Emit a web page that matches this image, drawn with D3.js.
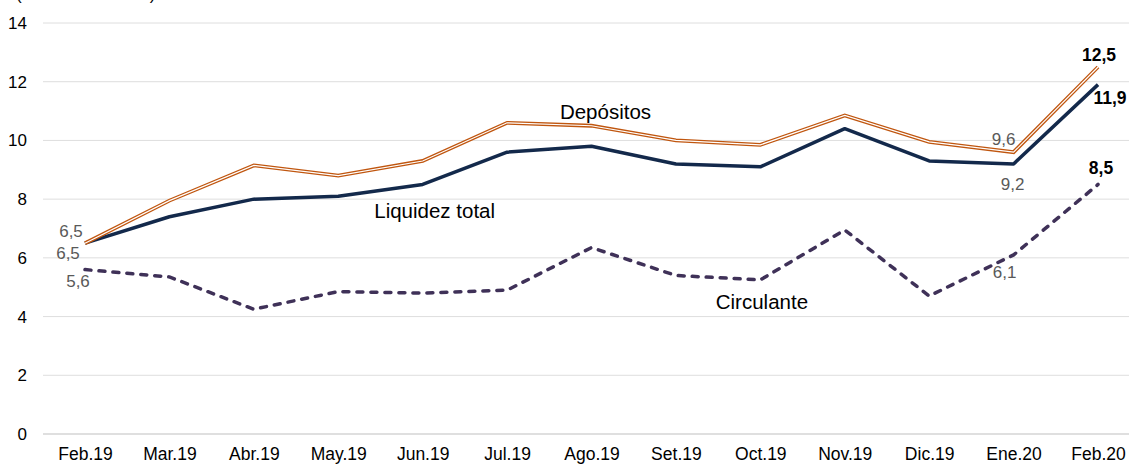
<!DOCTYPE html>
<html>
<head>
<meta charset="utf-8">
<script src="https://cdn.jsdelivr.net/npm/d3@7"></script>
<style>
  body { margin: 0; background: #fff; }
  svg { display: block; font-family: "Liberation Sans", Arial, sans-serif; }
</style>
</head>
<body>
<svg id="chart"></svg>
<script>
const width = 1129;
const height = 464;

const months = ['Feb.19', 'Mar.19', 'Abr.19', 'May.19', 'Jun.19', 'Jul.19', 'Ago.19',
                'Set.19', 'Oct.19', 'Nov.19', 'Dic.19', 'Ene.20', 'Feb.20'];
const depositos = [6.5, 7.95, 9.15, 8.8, 9.3, 10.6, 10.5, 10.0, 9.85, 10.85, 9.95, 9.6, 12.5];
const liquidez  = [6.5, 7.4, 8.0, 8.1, 8.5, 9.6, 9.8, 9.2, 9.1, 10.4, 9.3, 9.2, 11.9];
const circulante = [5.6, 5.35, 4.25, 4.85, 4.8, 4.9, 6.35, 5.4, 5.25, 6.95, 4.7, 6.1, 8.5];
const yTicks = [0, 2, 4, 6, 8, 10, 12, 14];

const svg = d3.select('#chart')
            .attr('width', width)
            .attr('height', height);

const x = d3.scalePoint().domain(months).range([85, 1098]);
const y = d3.scaleLinear().domain([0, 14]).range([434, 23]);

// unit note, cut by the top edge
svg.append('text')
    .attr('x', 16).attr('y', 0)
    .attr('font-size', 17)
    .attr('fill', '#000')
    .text('(Var. % real anual)');

// grid
svg.append('g').selectAll('line')
    .data(yTicks).enter()
    .append('line')
    .attr('x1', 43).attr('x2', width)
    .attr('y1', d => y(d)).attr('y2', d => y(d))
    .attr('stroke', d => d === 0 ? '#bfbfbf' : '#dedede')
    .attr('stroke-width', 1);

const yAxis = svg.append('g').attr('transform', 'translate(27,0)')
    .call(d3.axisLeft(y).tickValues(yTicks).tickSize(0).tickPadding(0));
yAxis.select('.domain').remove();
yAxis.selectAll('text').attr('font-size', 17).attr('fill', '#000')
    .attr('font-family', '"Liberation Sans", Arial, sans-serif');

const xAxis = svg.append('g').attr('transform', 'translate(0,448)')
    .call(d3.axisBottom(x).tickSize(0).tickPadding(0));
xAxis.select('.domain').remove();
xAxis.selectAll('text').attr('font-size', 17.5).attr('fill', '#000')
    .attr('font-family', '"Liberation Sans", Arial, sans-serif');

const line = d3.line().x((d, i) => x(months[i])).y(d => y(d));

// Circulante
svg.append('path')
    .attr('d', line(circulante))
    .attr('fill', 'none')
    .attr('stroke', '#3f3158')
    .attr('stroke-width', 3.5)
    .attr('stroke-linecap', 'round')
    .attr('stroke-dasharray', '6,8');

// Liquidez total
svg.append('path')
    .attr('d', line(liquidez))
    .attr('fill', 'none')
    .attr('stroke', '#13294b')
    .attr('stroke-width', 3.5)
    .attr('stroke-linejoin', 'round');

// Depósitos (double line)
svg.append('path')
    .attr('d', line(depositos))
    .attr('fill', 'none')
    .attr('stroke', '#c0560f')
    .attr('stroke-width', 3.8);
svg.append('path')
    .attr('d', line(depositos))
    .attr('fill', 'none')
    .attr('stroke', '#fff')
    .attr('stroke-width', 1.2);

// data labels
const labels = [
    {s: depositos, i: 0, dx: -14, dy: -12, bold: false},
    {s: depositos, i: 11, dx: -10, dy: -13, bold: false},
    {s: depositos, i: 12, dx: 1, dy: -12, bold: true},
    {s: liquidez, i: 0, dx: -17, dy: 10, bold: false},
    {s: liquidez, i: 11, dx: -1, dy: 21, bold: false},
    {s: liquidez, i: 12, dx: 12, dy: 13, bold: true},
    {s: circulante, i: 0, dx: -7, dy: 12, bold: false},
    {s: circulante, i: 11, dx: -9, dy: 18, bold: false},
    {s: circulante, i: 12, dx: 3, dy: -16, bold: true}
];
svg.append('g').selectAll('text')
    .data(labels).enter()
    .append('text')
    .attr('x', d => x(months[d.i]) + d.dx)
    .attr('y', d => y(d.s[d.i]) + d.dy)
    .attr('text-anchor', 'middle')
    .attr('dominant-baseline', 'central')
    .attr('font-size', d => d.bold ? 17.5 : 17)
    .attr('font-weight', d => d.bold ? 'bold' : 'normal')
    .attr('fill', d => d.bold ? '#000' : '#595959')
    .text(d => d.s[d.i].toFixed(1).replace('.', ','));

// series names
const names = [
    {text: 'Depósitos', m: 'Ago.19', dx: 14, v: 11.0},
    {text: 'Liquidez total', m: 'Jun.19', dx: 12, v: 7.63},
    {text: 'Circulante', m: 'Set.19', dx: 86, v: 4.5}
];
svg.append('g').selectAll('text')
    .data(names).enter()
    .append('text')
    .attr('x', d => x(d.m) + d.dx)
    .attr('y', d => y(d.v))
    .attr('text-anchor', 'middle')
    .attr('dominant-baseline', 'central')
    .attr('font-size', 20.5)
    .attr('fill', '#000')
    .text(d => d.text);
</script>
</body>
</html>
